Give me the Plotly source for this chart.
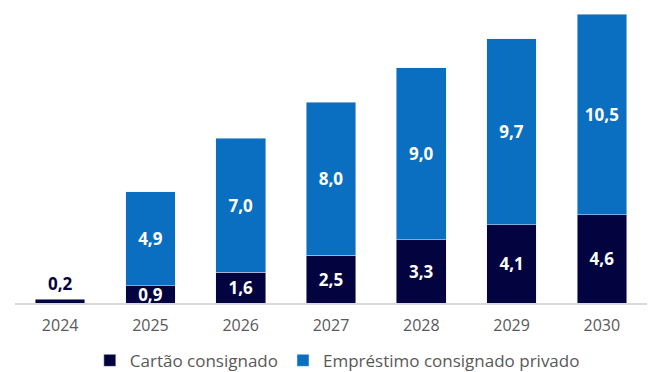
import plotly.graph_objects as go

years = ["2024", "2025", "2026", "2027", "2028", "2029", "2030"]
cartao = [0.2, 0.9, 1.6, 2.5, 3.3, 4.1, 4.6]
emprestimo = [None, 4.9, 7.0, 8.0, 9.0, 9.7, 10.5]

dark = "#03033f"
blue = "#0b6fc1"
font = "Open Sans"

def fmt(v):
    return "" if v is None else f"{v:.1f}".replace(".", ",")

cartao_text = [fmt(v) if v >= 0.5 else "" for v in cartao]
outside_idx = [i for i, v in enumerate(cartao) if v < 0.5]

lbl_font = dict(color="white", size=17, family=font, weight="bold")

fig = go.Figure()
fig.add_trace(go.Bar(
    x=years, y=cartao, name="Cartão consignado", marker_color=dark,
    text=cartao_text, textposition="inside", insidetextanchor="middle",
    textfont=lbl_font, textangle=0,
))
fig.add_trace(go.Bar(
    x=years, y=emprestimo, name="Empréstimo consignado privado", marker_color=blue,
    text=[fmt(v) for v in emprestimo], textposition="inside", insidetextanchor="middle",
    textfont=lbl_font, textangle=0,
))

for i in outside_idx:
    fig.add_annotation(x=i, y=cartao[i], text=fmt(cartao[i]), showarrow=False,
                       yanchor="bottom", yshift=2,
                       font=dict(color=dark, size=17, family=font, weight="bold"))

totals = [c + (e or 0) for c, e in zip(cartao, emprestimo)]

fig.update_layout(
    barmode="stack", bargap=0.45,
    width=655, height=372,
    margin=dict(l=15, r=8, t=14, b=69, autoexpand=False),
    plot_bgcolor="white", paper_bgcolor="white",
    uniformtext=dict(minsize=17, mode="show"),
    font=dict(family=font, color="#595959", size=16),
    showlegend=True,
    legend=dict(orientation="h", x=0.51, xanchor="center", y=-0.2, yanchor="middle",
                font=dict(size=17, color="#595959", family=font),
                itemwidth=30, traceorder="normal"),
    xaxis=dict(type="category", range=[-0.5, len(years) - 0.5], showline=True,
               linecolor="#d9d9d9", linewidth=2, ticks="", automargin=False,
               ticklabelstandoff=7,
               tickfont=dict(size=16, color="#595959", family=font), showgrid=False),
    yaxis=dict(visible=False, range=[0, max(totals)], showgrid=False),
)

fig.write_html("out.html")
